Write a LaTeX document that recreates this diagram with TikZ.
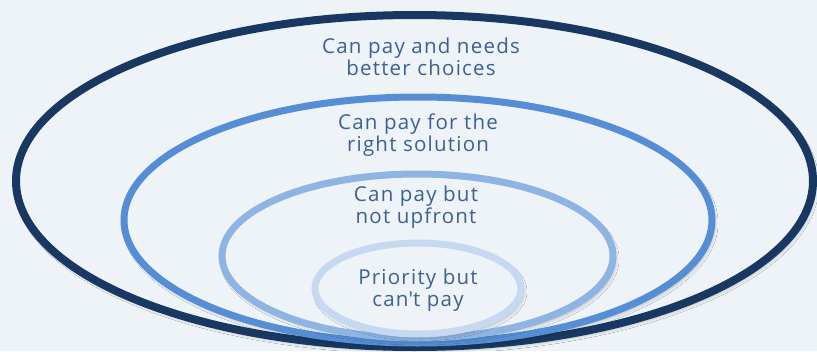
\documentclass[tikz,border=0pt]{standalone}
\usepackage{fontspec}
\setmainfont{Open Sans}[LetterSpace=6]
\usetikzlibrary{shapes.geometric,shadows.blur}
\definecolor{bgc}{RGB}{238,243,248}
\definecolor{ringA}{RGB}{24,56,97}
\definecolor{ringB}{RGB}{85,142,213}
\definecolor{ringC}{RGB}{142,180,227}
\definecolor{ringD}{RGB}{198,217,241}
\definecolor{txt}{RGB}{62,96,145}
\tikzset{
  ring/.style={ellipse, inner sep=0pt, outer sep=0pt, fill=bgc,
    blur shadow={shadow xshift=2pt, shadow yshift=-3pt, shadow blur radius=4pt,
      shadow opacity=30, shadow blur steps=10}},
  label/.style={text=txt, align=center, inner sep=0pt,
    font=\fontsize{20.5}{22}\selectfont}
}
\begin{document}
\begin{tikzpicture}[x=1pt, y=-1pt]
  \path[use as bounding box] (0,0) rectangle (817,351);
  \clip (0,0) rectangle (817,351);
  \fill[bgc] (0,0) rectangle (817,351);
  % nested rings, outermost first
  \node[ring, draw=ringA, line width=8pt, minimum width=797pt, minimum height=332pt] (r1) at (414.5,181) {};
  \node[ring, draw=ringB, line width=7pt, minimum width=588pt, minimum height=246pt] (r2) at (418,220) {};
  \node[ring, draw=ringC, line width=7pt, minimum width=391pt, minimum height=164pt] (r3) at (417.5,256) {};
  \node[ring, draw=ringD, line width=7pt, minimum width=206pt, minimum height=91pt] (r4) at (418,288.5) {};
  % ring labels
  \node[label] (t1) at (421,57) {Can pay and needs\\better choices};
  \node[label] (t2) at (418,135) {Can pay for the\\right solution};
  \node[label] (t3) at (416,207) {Can pay but\\not upfront};
  \node[label] (t4) at (418,290) {Priority but\\can\textquotesingle t pay};
\end{tikzpicture}
\end{document}
